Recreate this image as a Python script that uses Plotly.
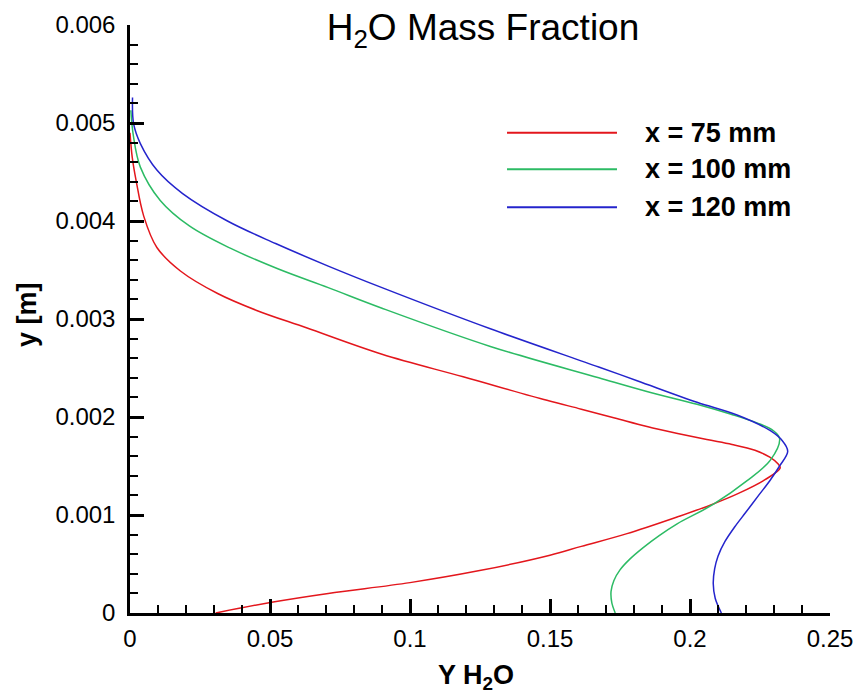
import plotly.graph_objects as go

# ---- data ----
series_names = ["x = 75 mm", "x = 100 mm", "x = 120 mm"]
series_colors = ["#e3161c", "#2cbb64", "#2424cc"]

y_h2o_75 = [0.0000, 0.0008, 0.0022, 0.0049, 0.0096, 0.0180, 0.0313, 0.0450, 0.0630, 0.0900,
            0.1190, 0.1489, 0.1612, 0.1731, 0.1850, 0.1960, 0.2060, 0.2150, 0.2232, 0.2285,
            0.2315, 0.2322,
            0.2268, 0.2173, 0.2072, 0.1954, 0.1775, 0.1612, 0.1500, 0.1244, 0.1000,
            0.0708, 0.0506, 0.0306]
y_m_75 = [0.00490, 0.00465, 0.00441, 0.00405, 0.00373, 0.00349, 0.00326, 0.00309, 0.00291, 0.00264,
          0.00241, 0.00217, 0.00208, 0.00199, 0.00190, 0.00183, 0.00177, 0.00172, 0.00166, 0.00159,
          0.00152, 0.00148,
          0.00136, 0.00122, 0.00110, 0.00098, 0.00081, 0.00068, 0.00059, 0.00043, 0.00031,
          0.00020, 0.00011, 0.00000]

y_h2o_100 = [0.0003, 0.0012, 0.0037, 0.0108, 0.0212, 0.0360, 0.0530, 0.0708, 0.0900, 0.1287,
             0.1674, 0.1846, 0.2025, 0.2144, 0.2239, 0.2298, 0.2320, 0.2287, 0.2204,
             0.2084, 0.1954, 0.1890, 0.1834, 0.1785, 0.1750, 0.1728, 0.1718, 0.1721, 0.1733]
y_m_100 = [0.00513, 0.00487, 0.00455, 0.00421, 0.00395, 0.00372, 0.00351, 0.00332, 0.00311, 0.00272,
           0.00240, 0.00226, 0.00213, 0.00203, 0.00194, 0.00186, 0.00178, 0.00156, 0.00135,
           0.00111, 0.00091, 0.00079, 0.00067, 0.00055, 0.00044, 0.00033, 0.00022, 0.00010, 0.00000]

y_h2o_120 = [0.0009, 0.0013, 0.0037, 0.0096, 0.0188, 0.0348, 0.0520, 0.0708, 0.0900, 0.1287,
             0.1674, 0.1811, 0.2025, 0.2168, 0.2287, 0.2329, 0.2349, 0.2320, 0.2285, 0.2245,
             0.2200, 0.2160, 0.2125, 0.2100, 0.2088, 0.2083, 0.2090, 0.2112]
y_m_120 = [0.00526, 0.00499, 0.00479, 0.00452, 0.00428, 0.00400, 0.00377, 0.00354, 0.00332, 0.00290,
           0.00251, 0.00237, 0.00215, 0.00202, 0.00186, 0.00176, 0.00165, 0.00150, 0.00135, 0.00120,
           0.00103, 0.00088, 0.00073, 0.00058, 0.00045, 0.00030, 0.00015, 0.00000]

x_tickvals = [0, 0.05, 0.1, 0.15, 0.2, 0.25]
x_ticktext = ["0", "0.05", "0.1", "0.15", "0.2", "0.25"]
y_tickvals = [0, 0.001, 0.002, 0.003, 0.004, 0.005, 0.006]
y_ticktext = ["0", "0.001", "0.002", "0.003", "0.004", "0.005", "0.006"]

xs = [y_h2o_75, y_h2o_100, y_h2o_120]
ys = [y_m_75, y_m_100, y_m_120]

FONT = "Liberation Sans, Arial, sans-serif"

fig = go.Figure()
for name, color, x, y in zip(series_names, series_colors, xs, ys):
    fig.add_trace(go.Scatter(x=x, y=y, mode="lines", name=name,
                             line=dict(color=color, width=1.5, shape="spline", smoothing=1.0),
                             showlegend=False))

# manual legend (long line samples like the reference)
leg_rows = [0.8168, 0.7546, 0.690]
shapes = []
annotations = []
for name, color, ry in zip(series_names, series_colors, leg_rows):
    shapes.append(dict(type="line", xref="paper", yref="paper", x0=0.5386, x1=0.6957,
                       y0=ry, y1=ry, line=dict(color=color, width=2)))
    annotations.append(dict(xref="paper", yref="paper", x=0.733, y=ry, text="<b>%s</b>" % name,
                            showarrow=False, xanchor="left", yanchor="middle",
                            font=dict(family=FONT, size=27, color="black")))

# axis titles
annotations.append(dict(xref="paper", yref="paper", x=-0.147, y=0.507, text="<b>y [m]</b>",
                        textangle=-90, showarrow=False, xanchor="center", yanchor="middle",
                        font=dict(family=FONT, size=27, color="black")))
annotations.append(dict(xref="paper", yref="paper", x=0.494, y=-0.109,
                        text="<b>Y H<sub>2</sub>O</b>", showarrow=False,
                        xanchor="center", yanchor="middle",
                        font=dict(family=FONT, size=27, color="black")))

axis_common = dict(showline=True, linecolor="black", linewidth=2.5, mirror=False,
                   showgrid=False, zeroline=False, ticks="inside", ticklen=14, tickwidth=2.5,
                   tickcolor="black", tickfont=dict(family=FONT, size=24, color="black"),
                   tickmode="array", automargin=False)

fig.update_xaxes(range=[0, 0.25], tickvals=x_tickvals, ticktext=x_ticktext,
                 minor=dict(ticks="inside", ticklen=8, tickwidth=1.5, tickcolor="black",
                            tickmode="linear", tick0=0, dtick=0.01, showgrid=False),
                 ticklabelstandoff=2, **axis_common)
fig.update_yaxes(range=[0, 0.006], tickvals=y_tickvals, ticktext=y_ticktext,
                 minor=dict(ticks="inside", ticklen=8, tickwidth=1.5, tickcolor="black",
                            tickmode="linear", tick0=0, dtick=0.0002, showgrid=False),
                 ticklabelstandoff=7, **axis_common)

fig.update_layout(
    width=855, height=697,
    margin=dict(l=130, r=25, t=25, b=84),
    paper_bgcolor="white", plot_bgcolor="white",
    title=dict(text="H<sub>2</sub>O Mass Fraction", x=483 / 855, xanchor="center",
               xref="container", y=1 - 27 / 697, yanchor="middle", yref="container",
               font=dict(family=FONT, size=37, color="black")),
    shapes=shapes, annotations=annotations,
    showlegend=False,
)

fig.write_html("out.html")
